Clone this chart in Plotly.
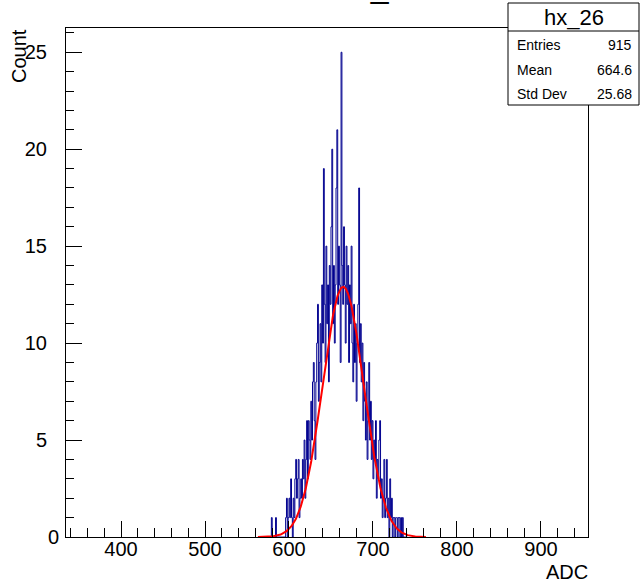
import numpy as np
import plotly.graph_objects as go

# ---------------- data ----------------
hist_name = "hx_26"
x_title = "ADC"
y_title = "Count"
first_bin_low_edge = 575          # ADC, lower edge of first listed bin
bin_width = 1                     # ADC per bin
counts = [
    0, 0, 0, 0, 1, 0, 0, 0, 0, 1,            # 575-584
    0, 0, 0, 0, 0, 0, 0, 0, 0, 0,            # 585-594
    0, 1, 2, 0, 1, 2, 1, 3, 1, 0,            # 595-604
    2, 1, 3, 4, 2, 3, 4, 1, 2, 3,            # 605-614
    2, 4, 3, 5, 2, 4, 6, 3, 6, 5,            # 615-624
    4, 7, 5, 8, 9, 6, 4, 8, 10, 12,          # 625-634
    7, 9, 11, 8, 13, 10, 19, 12, 9, 15,      # 635-644
    11, 13, 8, 14, 12, 16, 20, 11, 14, 10,   # 645-654
    13, 18, 21, 12, 15, 13, 9, 25, 14, 12,   # 655-664
    16, 13, 10, 15, 12, 14, 9, 13, 11, 15,   # 665-674
    10, 8, 12, 9, 11, 7, 10, 12, 18, 9,      # 675-684
    11, 8, 10, 6, 9, 7, 5, 8, 4, 6,          # 685-694
    9, 5, 7, 4, 6, 3, 5, 4, 6, 2,            # 695-704
    4, 3, 5, 6, 2, 3, 1, 2, 4, 1,            # 705-714
    2, 4, 1, 2, 0, 3, 1, 2, 0, 1,            # 715-724
    1, 0, 1, 1, 0, 1, 1, 0, 1, 0,            # 725-734
    1, 0, 0, 0, 0, 0,                        # 735-740
]
stats_labels = ["Entries", "Mean", "Std Dev"]
stats_values = ["915", "664.6", "25.68"]

fit_constant = 12.9
fit_mean = 664.5
fit_sigma = 24.6
fit_range = (563, 763)

x_range = (334.5, 956.0)
y_range = (0.0, 26.25)
x_ticks = [400, 500, 600, 700, 800, 900]
y_ticks = [5, 10, 15, 20, 25]

# ---------------- build ----------------
edges = [first_bin_low_edge + i * bin_width for i in range(len(counts) + 1)]
step_y = counts + [counts[-1]]

fit_x = np.linspace(fit_range[0], fit_range[1], 400)
fit_y = fit_constant * np.exp(-0.5 * ((fit_x - fit_mean) / fit_sigma) ** 2)

FONT = "Liberation Sans, Arial, Helvetica, sans-serif"

fig = go.Figure()
fig.add_trace(go.Scatter(
    x=edges, y=step_y, mode="lines", line_shape="hv",
    line=dict(color="#00008f", width=1), showlegend=False, hoverinfo="skip"))
fig.add_trace(go.Scatter(
    x=fit_x, y=fit_y, mode="lines",
    line=dict(color="#ff0000", width=2), showlegend=False, hoverinfo="skip"))

L, R, T, B = 66, 588, 28, 537
W, H = 641, 584
pw, ph = R - L, B - T

def px(x):
    return (x - L) / pw

def py(y):
    return (B - y) / ph

fig.update_layout(
    width=W, height=H, autosize=False,
    margin=dict(l=L, r=W - R, t=T, b=H - B, pad=0),
    paper_bgcolor="white", plot_bgcolor="white",
    font=dict(family=FONT, color="black", size=20),
    showlegend=False,
)
fig.update_xaxes(
    range=list(x_range), showgrid=False, zeroline=False,
    showline=True, linecolor="black", linewidth=1, mirror=True,
    ticks="inside", ticklen=16, tickwidth=1, tickcolor="black",
    tickvals=x_ticks, ticktext=[str(v) for v in x_ticks],
    tickfont=dict(size=20, family=FONT), ticklabelstandoff=-6,
    minor=dict(ticks="inside", ticklen=9, tick0=0, dtick=20, tickcolor="black", showgrid=False),
)
fig.update_yaxes(
    range=list(y_range), showgrid=False, zeroline=False,
    showline=True, linecolor="black", linewidth=1, mirror=True,
    ticks="inside", ticklen=16, tickwidth=1, tickcolor="black",
    tickvals=y_ticks, ticktext=[str(v) for v in y_ticks],
    tickfont=dict(size=20, family=FONT), ticklabelstandoff=14,
    minor=dict(ticks="inside", ticklen=8, tick0=0, dtick=1, tickcolor="black", showgrid=False),
)

# "0" label on y axis (ROOT places it slightly offset)
fig.add_annotation(xref="paper", yref="paper", x=px(61), y=py(537),
                   text="0", showarrow=False, xanchor="right", yanchor="middle",
                   font=dict(size=20, family=FONT))

# axis titles
fig.add_annotation(xref="paper", yref="paper", x=px(590), y=py(572),
                   text=x_title, showarrow=False, xanchor="right", yanchor="middle",
                   font=dict(size=20, family=FONT))
fig.add_annotation(xref="paper", yref="paper", x=px(19), y=py(27),
                   text=y_title, showarrow=False, textangle=-90,
                   xanchor="center", yanchor="top",
                   font=dict(size=20, family=FONT))

# title (mostly above the page edge in the original)
fig.add_annotation(xref="paper", yref="paper", x=px(380), y=py(7),
                   text=hist_name, showarrow=False, xanchor="center", yanchor="bottom",
                   font=dict(size=32, family=FONT))

# stats box
bx0, bx1, by0, by1, bsep = 508, 639, 3, 105, 31
fig.add_shape(type="rect", xref="paper", yref="paper",
              x0=px(bx0), x1=px(bx1), y0=py(by1), y1=py(by0),
              line=dict(color="black", width=1), fillcolor="white", layer="above")
fig.add_shape(type="line", xref="paper", yref="paper",
              x0=px(bx0), x1=px(bx1), y0=py(bsep), y1=py(bsep),
              line=dict(color="black", width=1), layer="above")
fig.add_annotation(xref="paper", yref="paper", x=px((bx0 + bx1) / 2), y=py(17),
                   text=hist_name, showarrow=False, xanchor="center", yanchor="middle",
                   font=dict(size=22, family=FONT))
row_y = [45, 70, 94]
for lab, val, yy in zip(stats_labels, stats_values, row_y):
    fig.add_annotation(xref="paper", yref="paper", x=px(515), y=py(yy),
                       text=lab, showarrow=False, xanchor="left", yanchor="middle",
                       font=dict(size=14, family=FONT))
    fig.add_annotation(xref="paper", yref="paper", x=px(634), y=py(yy),
                       text=val, showarrow=False, xanchor="right", yanchor="middle",
                       font=dict(size=14, family=FONT))

# remove the default page margin so the figure sits at the window's corner
fig.write_html("out.html", config={"displayModeBar": False},
               post_script="document.body.style.margin='0';")
